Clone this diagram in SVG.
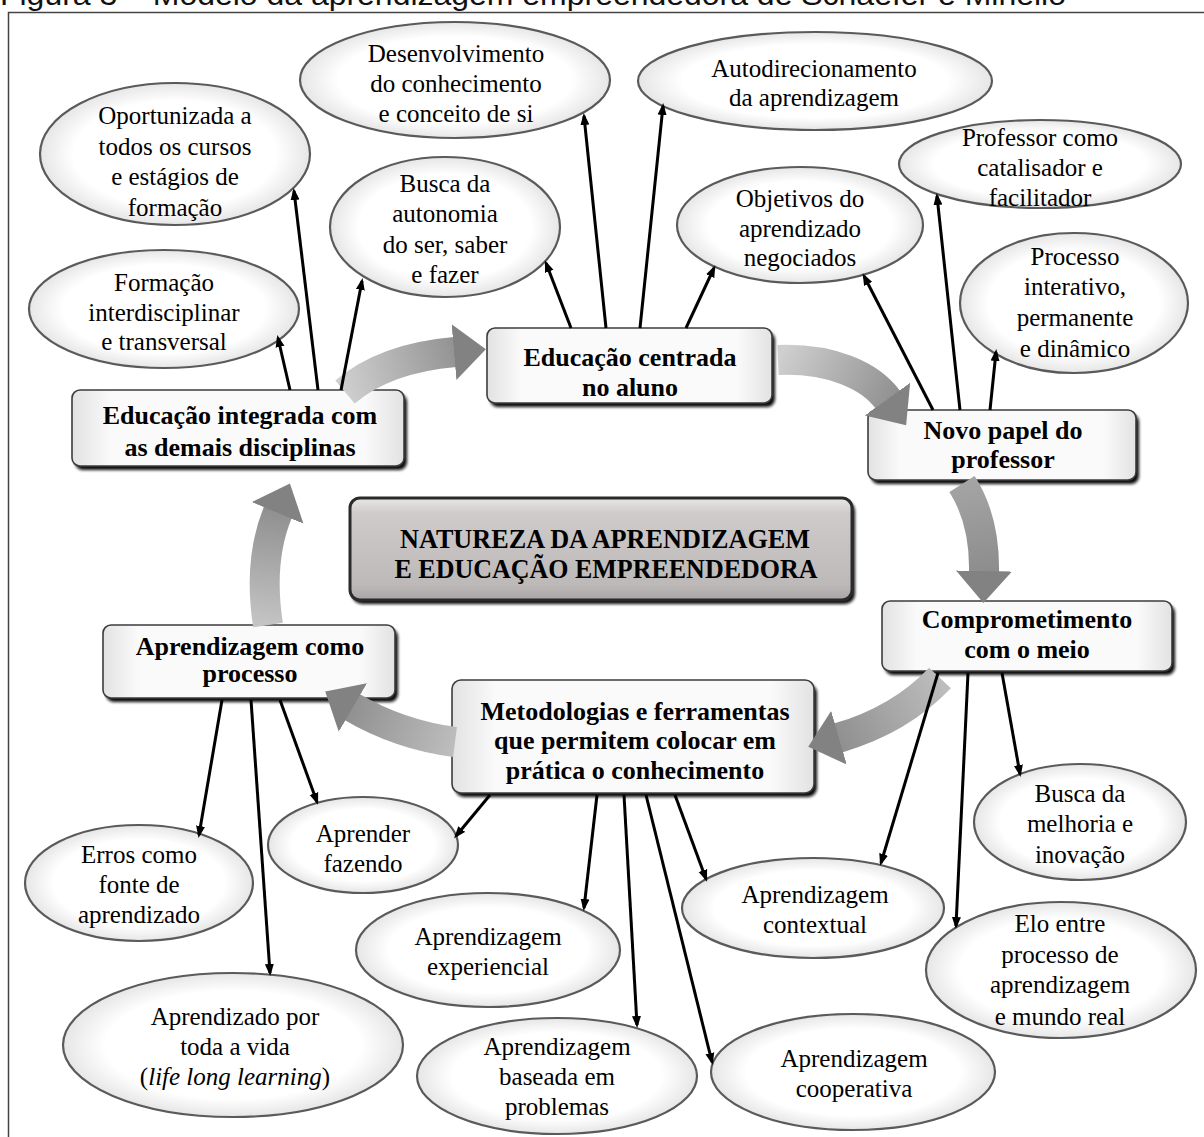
<svg xmlns="http://www.w3.org/2000/svg" width="1204" height="1137" viewBox="0 0 1204 1137">
<defs>
<style>
.et{font-family:"Liberation Serif","Times New Roman",serif;font-size:25px;fill:#000;text-anchor:middle}
.bt{font-family:"Liberation Serif","Times New Roman",serif;font-size:26px;font-weight:bold;fill:#000;text-anchor:middle}
.ct{font-family:"Liberation Serif","Times New Roman",serif;font-size:28px;font-weight:bold;fill:#000;text-anchor:middle}
.ell{fill:url(#ellFill);stroke:#5a5a5a;stroke-width:2.2}
.box{fill:url(#boxFill);stroke:#3c3c3c;stroke-width:1.6}
.shadow{fill:#111;filter:url(#blur)}
.thin{fill:none;stroke:#000;stroke-width:3;marker-end:url(#ah)}
.band{fill:none;stroke-width:30;marker-end:url(#bh)}
</style>
<filter id="blur" x="-10%" y="-20%" width="120%" height="140%"><feGaussianBlur stdDeviation="1.8"/></filter>
<radialGradient id="ellFill" cx="50%" cy="50%" r="50%"><stop offset="0.75" stop-color="#ffffff"/><stop offset="1" stop-color="#e6e6e6"/></radialGradient>
<linearGradient id="boxFill" x1="0" y1="0" x2="1" y2="0"><stop offset="0" stop-color="#e2e2e2"/><stop offset="0.12" stop-color="#fafafa"/><stop offset="0.88" stop-color="#fafafa"/><stop offset="1" stop-color="#e2e2e2"/></linearGradient>
<linearGradient id="centerFill" x1="0" y1="0" x2="0" y2="1"><stop offset="0" stop-color="#e9e6e6"/><stop offset="0.15" stop-color="#cfcbcb"/><stop offset="0.85" stop-color="#bdb9b9"/><stop offset="1" stop-color="#a9a5a5"/></linearGradient>
<linearGradient id="g1" gradientUnits="userSpaceOnUse" x1="345" y1="392" x2="485" y2="352"><stop offset="0" stop-color="#cfcfcf"/><stop offset="1" stop-color="#858585"/></linearGradient>
<linearGradient id="g2" gradientUnits="userSpaceOnUse" x1="778" y1="360" x2="906" y2="424"><stop offset="0" stop-color="#cfcfcf"/><stop offset="1" stop-color="#858585"/></linearGradient>
<linearGradient id="g3" gradientUnits="userSpaceOnUse" x1="962" y1="484" x2="984" y2="603"><stop offset="0" stop-color="#a4a4a4"/><stop offset="1" stop-color="#858585"/></linearGradient>
<linearGradient id="g4" gradientUnits="userSpaceOnUse" x1="940" y1="678" x2="809" y2="746"><stop offset="0" stop-color="#bdbdbd"/><stop offset="1" stop-color="#858585"/></linearGradient>
<linearGradient id="g5" gradientUnits="userSpaceOnUse" x1="455" y1="742" x2="326" y2="692"><stop offset="0" stop-color="#bdbdbd"/><stop offset="1" stop-color="#858585"/></linearGradient>
<linearGradient id="g6" gradientUnits="userSpaceOnUse" x1="268" y1="625" x2="289" y2="488"><stop offset="0" stop-color="#c4c4c4"/><stop offset="1" stop-color="#858585"/></linearGradient>
<marker id="ah" markerUnits="userSpaceOnUse" viewBox="0 0 12 10" markerWidth="12" markerHeight="10" refX="9" refY="5" orient="auto"><path d="M0,0.5 L12,5 L0,9.5 z" fill="#000"/></marker>
<marker id="bh" markerUnits="userSpaceOnUse" viewBox="0 0 32 56" markerWidth="32" markerHeight="56" refX="1" refY="28" orient="auto"><path d="M0,0 L32,28 L0,56 z" fill="#828282"/></marker>
</defs>

<rect width="1204" height="1137" fill="#ffffff"/>
<path d="M8.5,1137 V12.5 H1204" fill="none" stroke="#444" stroke-width="1.5"/>
<text x="0" y="5" font-family="'Liberation Sans',Arial,sans-serif" font-size="29" fill="#111" textLength="1066" lengthAdjust="spacingAndGlyphs">Figura 3 – Modelo da aprendizagem empreendedora de Schaefer e Minello</text>

<g id="e-oportunizada"><ellipse class="ell" cx="175" cy="154" rx="135" ry="71"/><text class="et" x="175" y="124">Oportunizada a</text><text class="et" x="175" y="155">todos os cursos</text><text class="et" x="175" y="185">e estágios de</text><text class="et" x="175" y="216">formação</text></g>
<g id="e-formacao"><ellipse class="ell" cx="164" cy="309" rx="135" ry="59"/><text class="et" x="164" y="291">Formação</text><text class="et" x="164" y="321">interdisciplinar</text><text class="et" x="164" y="350">e transversal</text></g>
<g id="e-desenvolvimento"><ellipse class="ell" cx="455" cy="80" rx="155" ry="58"/><text class="et" x="456" y="62">Desenvolvimento</text><text class="et" x="456" y="92">do conhecimento</text><text class="et" x="456" y="122">e conceito de si</text></g>
<g id="e-busca-autonomia"><ellipse class="ell" cx="445" cy="227" rx="115" ry="70"/><text class="et" x="445" y="192">Busca da</text><text class="et" x="445" y="222">autonomia</text><text class="et" x="445" y="253">do ser, saber</text><text class="et" x="445" y="283">e fazer</text></g>
<g id="e-autodirecionamento"><ellipse class="ell" cx="815" cy="81" rx="177" ry="49"/><text class="et" x="814" y="77">Autodirecionamento</text><text class="et" x="814" y="106">da aprendizagem</text></g>
<g id="e-objetivos"><ellipse class="ell" cx="800" cy="225" rx="123" ry="58"/><text class="et" x="800" y="207">Objetivos do</text><text class="et" x="800" y="237">aprendizado</text><text class="et" x="800" y="266">negociados</text></g>
<g id="e-professor"><ellipse class="ell" cx="1040" cy="164" rx="141" ry="44"/><text class="et" x="1040" y="146">Professor como</text><text class="et" x="1040" y="176">catalisador e</text><text class="et" x="1040" y="206">facilitador</text></g>
<g id="e-processo"><ellipse class="ell" cx="1074" cy="303" rx="114" ry="70"/><text class="et" x="1075" y="265">Processo</text><text class="et" x="1075" y="295">interativo,</text><text class="et" x="1075" y="326">permanente</text><text class="et" x="1075" y="357">e dinâmico</text></g>
<g id="e-erros"><ellipse class="ell" cx="139" cy="883" rx="114" ry="58"/><text class="et" x="139" y="863">Erros como</text><text class="et" x="139" y="893">fonte de</text><text class="et" x="139" y="923">aprendizado</text></g>
<g id="e-aprender-fazendo"><ellipse class="ell" cx="363" cy="845" rx="95" ry="48"/><text class="et" x="363" y="842">Aprender</text><text class="et" x="363" y="872">fazendo</text></g>
<g id="e-toda-vida"><ellipse class="ell" cx="233" cy="1045" rx="170" ry="72"/><text class="et" x="235" y="1025">Aprendizado por</text><text class="et" x="235" y="1055">toda a vida</text><text class="et" x="235" y="1085">(<tspan font-style="italic">life long learning</tspan>)</text></g>
<g id="e-experiencial"><ellipse class="ell" cx="488" cy="950" rx="132" ry="57"/><text class="et" x="488" y="945">Aprendizagem</text><text class="et" x="488" y="975">experiencial</text></g>
<g id="e-problemas"><ellipse class="ell" cx="557" cy="1076" rx="140" ry="58"/><text class="et" x="557" y="1055">Aprendizagem</text><text class="et" x="557" y="1085">baseada em</text><text class="et" x="557" y="1115">problemas</text></g>
<g id="e-contextual"><ellipse class="ell" cx="813" cy="908" rx="131" ry="50"/><text class="et" x="815" y="903">Aprendizagem</text><text class="et" x="815" y="933">contextual</text></g>
<g id="e-cooperativa"><ellipse class="ell" cx="853" cy="1072" rx="142" ry="58"/><text class="et" x="854" y="1067">Aprendizagem</text><text class="et" x="854" y="1097">cooperativa</text></g>
<g id="e-melhoria"><ellipse class="ell" cx="1080" cy="822" rx="106" ry="58"/><text class="et" x="1080" y="802">Busca da</text><text class="et" x="1080" y="832">melhoria e</text><text class="et" x="1080" y="863">inovação</text></g>
<g id="e-elo"><ellipse class="ell" cx="1061" cy="970" rx="135" ry="68"/><text class="et" x="1060" y="932">Elo entre</text><text class="et" x="1060" y="963">processo de</text><text class="et" x="1060" y="993">aprendizagem</text><text class="et" x="1060" y="1025">e mundo real</text></g>

<g id="b-integrada"><rect class="shadow" x="75" y="394" width="332" height="76" rx="8"/><rect class="box" x="72" y="390" width="332" height="76" rx="8"/><text class="bt" x="240" y="424">Educação integrada com</text><text class="bt" x="240" y="456">as demais disciplinas</text></g>
<g id="b-centrada"><rect class="shadow" x="490" y="332" width="285" height="75" rx="8"/><rect class="box" x="487" y="328" width="285" height="75" rx="8"/><text class="bt" x="630" y="366">Educação centrada</text><text class="bt" x="630" y="396">no aluno</text></g>
<g id="b-novo-papel"><rect class="shadow" x="871" y="414" width="268" height="70" rx="8"/><rect class="box" x="868" y="410" width="268" height="70" rx="8"/><text class="bt" x="1003" y="439">Novo papel do</text><text class="bt" x="1003" y="468">professor</text></g>
<g id="b-comprometimento"><rect class="shadow" x="885" y="605" width="290" height="70" rx="8"/><rect class="box" x="882" y="601" width="290" height="70" rx="8"/><text class="bt" x="1027" y="628">Comprometimento</text><text class="bt" x="1027" y="658">com o meio</text></g>
<g id="b-metodologias"><rect class="shadow" x="455" y="684" width="362" height="113" rx="9"/><rect class="box" x="452" y="680" width="362" height="113" rx="9"/><text class="bt" x="635" y="720">Metodologias e ferramentas</text><text class="bt" x="635" y="749">que permitem colocar em</text><text class="bt" x="635" y="779">prática o conhecimento</text></g>
<g id="b-processo"><rect class="shadow" x="106" y="629" width="292" height="73" rx="8"/><rect class="box" x="103" y="625" width="292" height="73" rx="8"/><text class="bt" x="250" y="655">Aprendizagem como</text><text class="bt" x="250" y="682">processo</text></g>
<g id="b-natureza"><rect class="shadow" x="352" y="501" width="503" height="103" rx="10"/><rect x="350" y="498" width="502" height="102" rx="10" fill="url(#centerFill)" stroke="#2a2a2a" stroke-width="3"/><text class="ct" x="605" y="548" textLength="410" lengthAdjust="spacingAndGlyphs">NATUREZA DA APRENDIZAGEM</text><text class="ct" x="606" y="578" textLength="423" lengthAdjust="spacingAndGlyphs">E EDUCAÇÃO EMPREENDEDORA</text></g>

<g id="connectors">
<path class="band" stroke="url(#g1)" d="M345,392 Q385,358 455,352"/>
<path class="band" stroke="url(#g2)" d="M778,360 C830,358 870,375 888,400"/>
<path class="band" stroke="url(#g3)" d="M962,484 Q985,520 984,572"/>
<path class="band" stroke="url(#g4)" d="M940,678 Q900,720 838,738"/>
<path class="band" stroke="url(#g5)" d="M455,742 Q400,735 352,707"/>
<path class="band" stroke="url(#g6)" d="M268,625 Q258,560 278,512"/>
<line class="thin" x1="290" y1="390" x2="278" y2="338"/>
<line class="thin" x1="318" y1="390" x2="294" y2="191"/>
<line class="thin" x1="341" y1="390" x2="362" y2="281"/>
<line class="thin" x1="571" y1="328" x2="546" y2="263"/>
<line class="thin" x1="606" y1="328" x2="584" y2="116"/>
<line class="thin" x1="640" y1="328" x2="663" y2="106"/>
<line class="thin" x1="686" y1="328" x2="714" y2="268"/>
<line class="thin" x1="933" y1="410" x2="864" y2="276"/>
<line class="thin" x1="960" y1="410" x2="937" y2="196"/>
<line class="thin" x1="990" y1="410" x2="996" y2="352"/>
<line class="thin" x1="938" y1="673" x2="881" y2="863"/>
<line class="thin" x1="968" y1="673" x2="956" y2="926"/>
<line class="thin" x1="1002" y1="673" x2="1020" y2="774"/>
<line class="thin" x1="490" y1="795" x2="456" y2="836"/>
<line class="thin" x1="597" y1="795" x2="584" y2="908"/>
<line class="thin" x1="624" y1="795" x2="637" y2="1025"/>
<line class="thin" x1="646" y1="795" x2="712" y2="1062"/>
<line class="thin" x1="675" y1="795" x2="706" y2="879"/>
<line class="thin" x1="222" y1="700" x2="199" y2="835"/>
<line class="thin" x1="251" y1="700" x2="270" y2="973"/>
<line class="thin" x1="280" y1="700" x2="317" y2="802"/>
</g>
</svg>
